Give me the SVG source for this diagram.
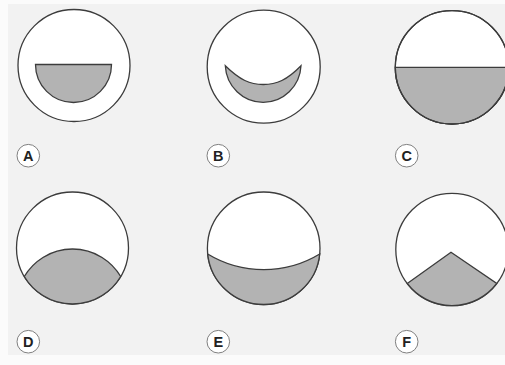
<svg xmlns="http://www.w3.org/2000/svg" width="505" height="365" viewBox="0 0 505 365">
<style>
.ring{fill:#ffffff;stroke:#3c3c3c;stroke-width:1.3}
.edge{fill:none;stroke:#3c3c3c;stroke-width:1.3}
.fill{fill:#b3b3b3;stroke:#3c3c3c;stroke-width:1.3;stroke-linejoin:miter}
.lab circle{fill:#ffffff;stroke:#808080;stroke-width:1}
.lab text{font-family:"Liberation Sans",Arial,sans-serif;font-weight:bold;font-size:14.5px;fill:#222;text-anchor:middle}
</style>
<rect x="0" y="0" width="505" height="365" fill="#fbfbfb"/>
<rect x="8" y="4" width="497" height="351" fill="#f2f2f2"/>
<g id="A">
<circle class="ring" cx="74" cy="65.5" r="56"/>
<path class="fill" d="M35.5,64.5 H111.5 A38,38 0 0 1 35.5,64.5 Z"/>
<g class="lab"><circle cx="28.3" cy="155.7" r="11.3"/><text x="28.3" y="160.9">A</text></g>
</g>
<g id="B">
<circle class="ring" cx="263.7" cy="66.7" r="56.5"/>
<path class="fill" d="M225.3,65.7 C240,80 250,84.5 263.3,84.5 C276.5,84.5 287,80 301,65.7 A37.9,38.6 0 0 1 225.3,65.7 Z"/>
<g class="lab"><circle cx="218.3" cy="155.7" r="11.3"/><text x="218.3" y="160.9">B</text></g>
</g>
<g id="C">
<circle class="ring" cx="452" cy="67.3" r="56.7"/>
<path class="fill" d="M395.3,67.3 H508.7 A56.7,56.7 0 0 1 395.3,67.3 Z"/>
<circle class="edge" cx="452" cy="67.3" r="56.7"/>
<g class="lab"><circle cx="406.7" cy="155.7" r="11.3"/><text x="406.7" y="160.9">C</text></g>
</g>
<g id="D">
<circle class="ring" cx="72.5" cy="248" r="56"/>
<path class="fill" d="M24.3,276.5 A56,56 0 0 1 120.7,276.5 A56,56 0 0 1 24.3,276.5 Z"/>
<g class="lab"><circle cx="28.3" cy="341.7" r="11.3"/><text x="28.3" y="346.9">D</text></g>
</g>
<g id="E">
<circle class="ring" cx="263.7" cy="248.3" r="56.3"/>
<path class="fill" d="M207.7,254 A108,108 0 0 0 319.7,254 A56.3,56.3 0 0 1 207.7,254 Z"/>
<g class="lab"><circle cx="218.3" cy="341.7" r="11.3"/><text x="218.3" y="346.9">E</text></g>
</g>
<g id="F">
<circle class="ring" cx="452" cy="249.5" r="56.2"/>
<path class="fill" d="M407.25,283.5 L451,252.3 L496.75,283.5 A56.2,56.2 0 0 1 407.25,283.5 Z"/>
<g class="lab"><circle cx="406.7" cy="341.7" r="11.3"/><text x="406.7" y="346.9">F</text></g>
</g>
<g id="connectors"/>
</svg>
